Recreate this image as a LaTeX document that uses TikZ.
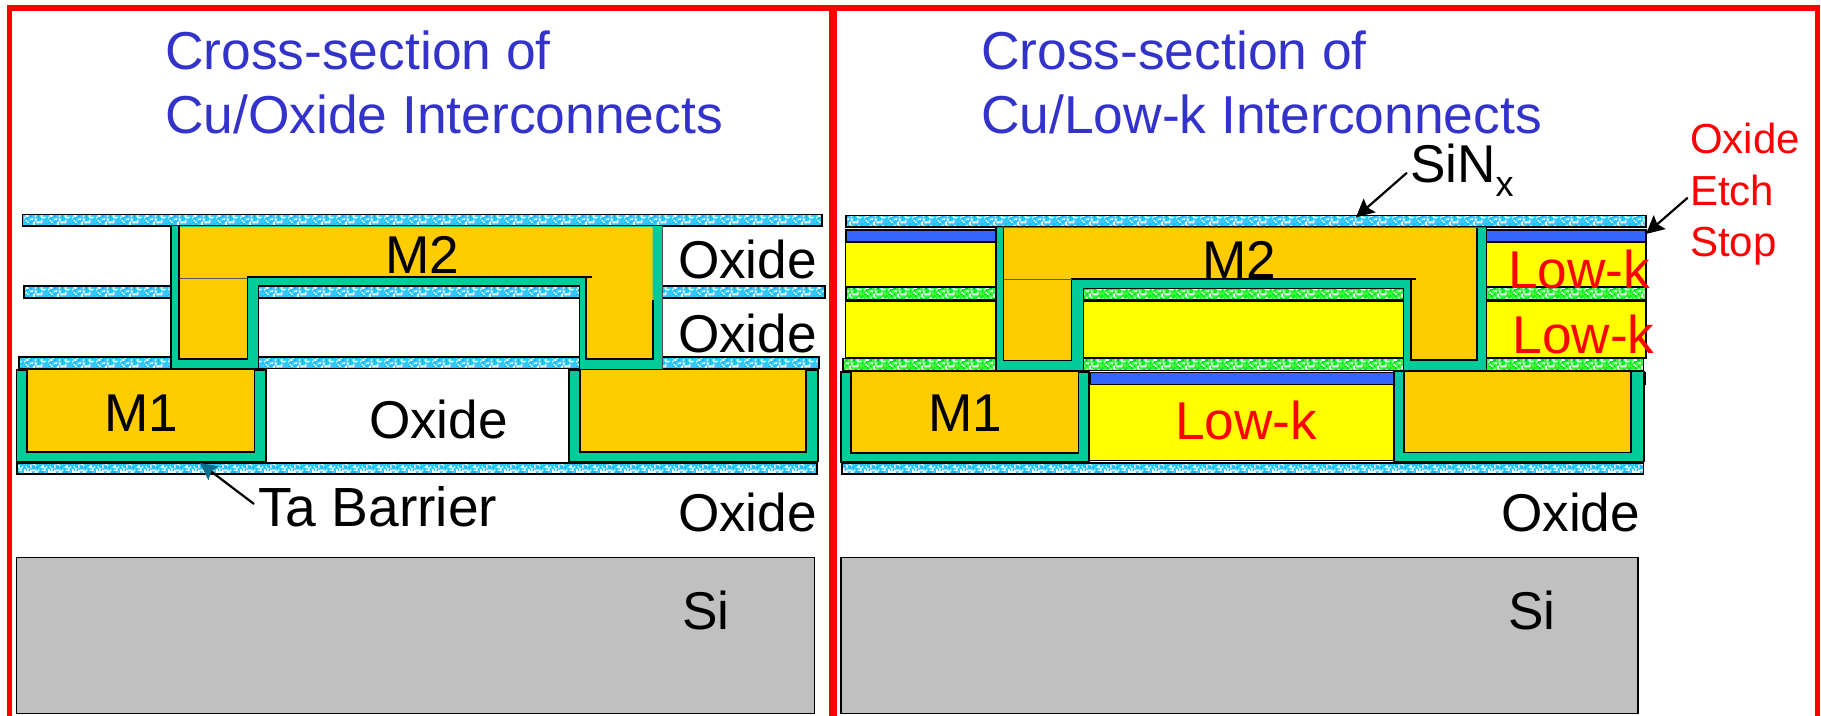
\documentclass[tikz,border=0pt]{standalone}
\usepackage{fontspec}
\setmainfont{Liberation Sans}
\usetikzlibrary{arrows.meta,patterns}
\definecolor{cu}{HTML}{FFCC00}
\definecolor{barrier}{HTML}{00CC99}
\definecolor{lowk}{HTML}{FFFF00}
\definecolor{etch}{HTML}{3366FF}
\definecolor{sibox}{HTML}{C0C0C0}
\definecolor{titleblue}{HTML}{3333CC}
\definecolor{redline}{HTML}{FF0000}
\definecolor{sincol}{HTML}{33CCFF}
\definecolor{sindark}{HTML}{14B8F0}
\definecolor{grn}{HTML}{33FF33}
\definecolor{grndark}{HTML}{00D030}
\definecolor{headteal}{HTML}{0A6F8F}
\pgfmathsetseed{11}
\newcommand{\specktile}{%
  \foreach \i in {0,...,70}{%
    \pgfmathrandominteger{\pa}{0}{14}%
    \pgfmathrandominteger{\pb}{0}{14}%
    \pgfmathsetmacro{\pc}{\pa*0.8}%
    \pgfmathsetmacro{\pd}{\pb*0.8}%
    \pgfpathrectangle{\pgfpoint{\pc pt}{\pd pt}}{\pgfqpoint{0.8pt}{0.8pt}}%
    \pgfusepath{fill}%
  }%
}
\pgfdeclarepatternformonly{specka}{\pgfqpoint{0pt}{0pt}}{\pgfqpoint{12pt}{12pt}}{\pgfqpoint{12pt}{12pt}}{\specktile}
\pgfdeclarepatternformonly{speckb}{\pgfqpoint{0pt}{0pt}}{\pgfqpoint{12pt}{12pt}}{\pgfqpoint{12pt}{12pt}}{\specktile}
\newcommand{\speckbar}[7]{%
  \fill[#5] (#1,#2) rectangle (#3,#4);
  \fill[pattern=speckb,pattern color=#7] (#1,#2) rectangle (#3,#4);
  \fill[pattern=specka,pattern color=#6] (#1,#2) rectangle (#3,#4);
  \draw[edge] (#1,#2) rectangle (#3,#4);
}
\tikzset{
  edge/.style={draw=black,line width=0.8pt},
  thinedge/.style={draw=black,line width=0.6pt},
  lbl/.style={anchor=base west,inner sep=0pt,outer sep=0pt,font=\fontsize{26.6}{26.6}\selectfont,text=black},
  redlbl/.style={lbl,text=redline},
  ttl/.style={lbl,font=\fontsize{26.7}{26.7}\selectfont,text=titleblue},
  etchlbl/.style={lbl,font=\fontsize{21}{21}\selectfont,text=redline},
  arrow/.style={draw=black,line width=1.1pt,-{Stealth[length=9pt,width=9pt,inset=1.5pt]}},
  taarrow/.style={draw=black,line width=1.1pt,-{Stealth[length=8.5pt,width=8.5pt,inset=1.5pt,color=headteal]}}
}
\begin{document}
\begin{tikzpicture}[x=0.5pt,y=-0.5pt]
\useasboundingbox (0,0) rectangle (1821,716);
% ---------- frame
\fill[redline] (7,5) rectangle (1820,11);
\fill[redline] (7,5) rectangle (12,716);
\fill[redline] (829.3,5) rectangle (836.5,716);
\fill[redline] (1815,5) rectangle (1820,716);
% ---------- titles
\node[ttl] (t1) at (165,69.5) {Cross-section of};
\node[ttl] (t2) at (165,134) {Cu/Oxide Interconnects};
\node[ttl] (t3) at (981,69.5) {Cross-section of};
\node[ttl] (t4) at (981,134) {Cu/Low-k Interconnects};
% ---------- left panel
\draw[edge,fill=sibox] (16.3,557.3) rectangle (814.3,713.3);
\speckbar{22.5}{214.5}{822}{226}{sincol}{white}{sindark}
\speckbar{24}{286}{825}{298.3}{sincol}{white}{sindark}
\speckbar{19}{357}{819}{368.7}{sincol}{white}{sindark}
\speckbar{16.7}{463}{816.7}{474}{sincol}{white}{sindark}
\draw[edge] (265.7,369) -- (265.7,462) (569,369) -- (569,462);
% M1 left
\draw[edge,fill=barrier] (16.5,370) rectangle (265.7,461.7);
\draw[edge,fill=cu] (26.7,369) rectangle (254.3,452.3);
% M1 right
\draw[edge,fill=barrier] (569,370) rectangle (817.7,461.7);
\draw[edge,fill=cu] (580,369) rectangle (806,452.3);
% dual damascene left
\fill[barrier] (171,226) -- (662.3,226) -- (662.3,369.5) -- (579.3,369.5) -- (579.3,286) -- (258.7,286) -- (258.7,368.5) -- (171,368.5) -- cycle;
\draw[edge] (171,226) -- (171,368.5) (171,368.5) -- (258.7,368.5);
\draw[thinedge] (258.7,368.5) -- (258.7,286) -- (579.3,286) -- (579.3,369.5) -- (662.3,369.5);
\draw[thinedge,draw=black!70] (662.3,226) -- (662.3,369.5);
\fill[cu] (179,226.8) -- (652.7,226.8) -- (652.7,359) -- (585.7,359) -- (585.7,277.3) -- (247.3,277.3) -- (247.3,359) -- (179,359) -- cycle;
\draw[edge] (179,226) -- (179,359) -- (247.3,359) -- (247.3,277.3) -- (591.5,277.3);
\draw[edge] (585.7,277.3) -- (585.7,359) -- (652.7,359) -- (652.7,300);
\draw[line width=0.4pt,draw=black!65] (179,278) -- (247.3,278);
\node[lbl] (m2a) at (385,273.5) {M2};
\node[lbl] (m1a) at (104,431.5) {M1};
\node[lbl] (ox1) at (369,438.5) {Oxide};
\node[lbl] (ox2) at (678,279) {Oxide};
\node[lbl] (ox3) at (678,353) {Oxide};
\node[lbl] (ox4) at (678,531) {Oxide};
\node[lbl] (si1) at (682,629.5) {Si};
\node[lbl,font=\fontsize{27.6}{27.6}\selectfont] (ta) at (258,526.5) {Ta Barrier};
\coordinate (taS) at (254,504);
\coordinate (taT) at (200,463);
\draw[taarrow] (taS) -- (taT);
% ---------- right panel
\draw[edge,fill=sibox] (840.7,557.3) rectangle (1637.7,713.3);
\draw[edge,fill=etch] (846,230) rectangle (1646,242.3);
\draw[edge,fill=lowk] (845.3,242.3) rectangle (1646,286.7);
\draw[edge,fill=lowk] (845.3,300.8) rectangle (1646,358);
\speckbar{846}{215.5}{1646}{227.3}{sincol}{white}{sindark}
\speckbar{846}{287.5}{1646}{299.5}{grn}{white}{grndark}
\speckbar{842.7}{358.5}{1643.3}{370.5}{grn}{white}{grndark}
\speckbar{842}{463.3}{1643.3}{474}{sincol}{white}{sindark}
\draw[edge,fill=etch] (1090,372.7) rectangle (1645,384.5);
\draw[edge,fill=lowk] (1089,384.5) rectangle (1393.5,460.7);
\node[redlbl] (lk1) at (1175,440) {Low-k};
% M1 left
\draw[edge,fill=barrier] (840.7,372) rectangle (1089,462);
\draw[edge,fill=cu] (850.7,371) rectangle (1078.3,453.3);
% M1 right
\draw[edge,fill=barrier] (1394,371.5) rectangle (1644,461.7);
\draw[edge,fill=cu] (1404,371) rectangle (1630.7,452.7);
% dual damascene right
\fill[barrier] (996,227.5) -- (1486.3,227.5) -- (1486.3,370.7) -- (1403.3,370.7) -- (1403.3,288.3) -- (1083.3,288.3) -- (1083.3,370) -- (996,370) -- cycle;
\draw[edge] (996,227.5) -- (996,370);
\draw[thinedge] (1083.3,370) -- (1083.3,288.3) -- (1403.3,288.3) -- (1403.3,370.7) -- (1486.3,370.7) -- (1486.3,227.5);
\fill[cu] (1003.7,228) -- (1476.7,228) -- (1476.7,360) -- (1410.7,360) -- (1410.7,279) -- (1071.7,279) -- (1071.7,360.7) -- (1003.7,360.7) -- cycle;
\draw[thinedge] (1003.7,228) -- (1003.7,360.7) -- (1071.7,360.7) -- (1071.7,279) -- (1416,279);
\draw[edge] (1071.7,360.7) -- (1003.7,360.7) (1410.7,279) -- (1410.7,360) -- (1476.7,360) -- (1476.7,228);
\draw[line width=0.4pt,draw=black!65] (1003.7,279.5) -- (1071.7,279.5);
\node[lbl] (m2b) at (1202,278.5) {M2};
\node[lbl] (m1b) at (928,432) {M1};
\node[redlbl] (lk2) at (1508,288.8) {Low-k};
\node[redlbl] (lk3) at (1512.5,354) {Low-k};
\node[lbl] (ox5) at (1501,531) {Oxide};
\node[lbl] (si2) at (1508,629.5) {Si};
\node[lbl] (sin) at (1410,182.5) {SiN\raisebox{-7pt}{\fontsize{18}{18}\selectfont x}};
\node[etchlbl] (e1) at (1690,153.3) {Oxide};
\node[etchlbl] (e2) at (1690,205.7) {Etch};
\node[etchlbl] (e3) at (1690,256.7) {Stop};
\coordinate (sinS) at (1407,172.7);
\coordinate (sinT) at (1356,217.3);
\draw[arrow] (sinS) -- (sinT);
\coordinate (etS) at (1687.7,197.7);
\coordinate (etT) at (1646,234);
\draw[arrow] (etS) -- (etT);
\end{tikzpicture}
\end{document}
